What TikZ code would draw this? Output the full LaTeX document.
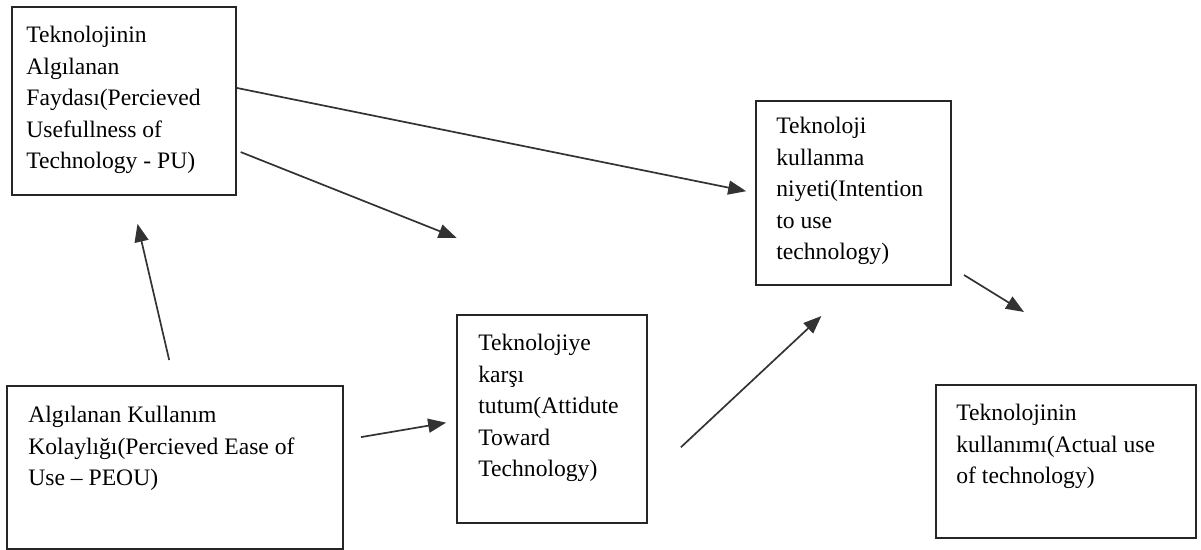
\documentclass[tikz,border=0pt]{standalone}
\usepackage{fontspec}
\setmainfont{Liberation Serif}
\usepackage{tikz}
\usetikzlibrary{arrows.meta}

\begin{document}
\begin{tikzpicture}[->,>={Triangle[length=9pt,width=7pt]},x=0.5pt,y=-0.5pt,
    box/.style={rectangle, draw=black!85, line width=1pt, inner sep=0pt},
    txt/.style={anchor=north west, inner sep=0pt, align=left,
                font=\fontsize{11.8}{15.75}\selectfont},
    link/.style={line width=0.85pt, color=black!80}]

    \useasboundingbox (0,0) rectangle (1201,550);

    \node[box,
          minimum width = 112pt,
          minimum height = 94pt
          ] (pu) at (124,101) {};
    \node[txt] (putext) at ([shift={(7.5pt,-10pt)}]pu.north west)
        {Teknolojinin\\Algılanan\\Faydası(Percieved\\Usefullness of\\Technology - PU)};

    \node[box,
          minimum width = 168pt,
          minimum height = 81.5pt
          ] (peou) at (175,467.5) {};
    \node[txt] (peoutext) at ([shift={(11pt,-10.5pt)}]peou.north west)
        {Algılanan Kullanım\\Kolaylığı(Percieved Ease of\\Use – PEOU)};

    \node[box,
          minimum width = 95pt,
          minimum height = 104pt
          ] (att) at (552,419) {};
    \node[txt] (atttext) at ([shift={(11pt,-10pt)}]att.north west)
        {Teknolojiye\\karşı\\tutum(Attidute\\Toward\\Technology)};

    \node[box,
          minimum width = 97.5pt,
          minimum height = 92pt
          ] (int) at (853.5,193) {};
    \node[txt] (inttext) at ([shift={(10.5pt,-8.5pt)}]int.north west)
        {Teknoloji\\kullanma\\niyeti(Intention\\to use\\technology)};

    \node[box,
          minimum width = 130pt,
          minimum height = 76.5pt
          ] (use) at (1066,461.5) {};
    \node[txt] (usetext) at ([shift={(10.5pt,-10pt)}]use.north west)
        {Teknolojinin\\kullanımı(Actual use\\of technology)};


    \path[link]
    %usefulness paths
    ([yshift=6.5pt]pu.east) edge [shorten >=4.5pt] (int.west)
    ([yshift=-24.8pt]pu.east) edge [shorten <=2pt, shorten >=103pt] (att.north east)
    %ease of use paths
    (peou.north) edge [shorten <=12.8pt, shorten >=14.3pt] ([xshift=3.5pt]pu.south)
    ([yshift=13.75pt]peou.east) edge [shorten <=8.6pt, shorten >=5pt] ([yshift=-1pt]att.west)
    %attitude and intention paths
    ([yshift=-29.5pt]att.east) edge [shorten <=22.5pt, shorten >=22pt] (int.south)
    ([shift={(6pt,5.5pt)}]int.south east) edge [] ([shift={(-21pt,36pt)}]use.north) ;

\end{tikzpicture}
\end{document}
